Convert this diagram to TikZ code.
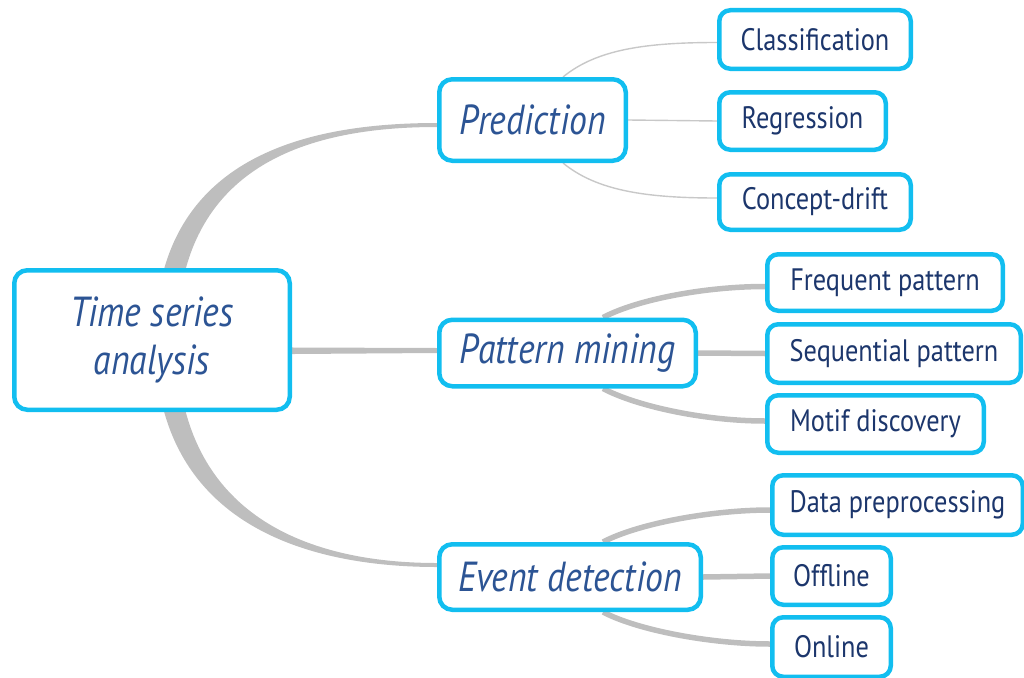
\documentclass[tikz,border=0pt]{standalone}
\usepackage{fontspec}
\setmainfont{PT Sans}[FakeStretch=0.85]
\usetikzlibrary{calc}
\pgfdeclarelayer{background}
\pgfsetlayers{background,main}
\definecolor{boxcyan}{RGB}{18,190,240}
\definecolor{leafnavy}{RGB}{28,54,108}
\definecolor{topicblue}{RGB}{44,84,148}
\definecolor{branchgray}{RGB}{190,190,190}
\definecolor{twiggray}{RGB}{200,200,200}

\begin{document}
\begin{tikzpicture}[x=1pt,y=-1pt,
  box/.style={draw=boxcyan, line width=4.5pt, fill=white, rounded corners=13pt, inner sep=0pt},
  topic/.style={box, font=\fontsize{42}{48}\selectfont\itshape, text=topicblue, align=center},
  leaf/.style={box, font=\fontsize{31}{36}\selectfont, text=leafnavy, rounded corners=11pt},
  branch/.style={fill=branchgray},
  twig/.style={draw=twiggray, line width=1.4pt},
  limb/.style={draw=branchgray, line width=5.5pt}]

\useasboundingbox (0,0) rectangle (1024,677);

% central topic and main branches
\node[topic, minimum width=275.5pt, minimum height=139.5pt] (root) at (152,340) {Time series\\analysis};
\node[topic, minimum width=186.5pt, minimum height=81.5pt] (pred) at (532.5,120) {Prediction};
\node[topic, minimum width=256.5pt, minimum height=66.5pt] (pm) at (567.5,353) {Pattern mining};
\node[topic, minimum width=261.5pt, minimum height=65.5pt] (ev) at (570,577) {Event detection};

% leaves
\node[leaf, minimum width=191.5pt, minimum height=58.5pt] (cls) at (815,39.5) {Classification};
\node[leaf, minimum width=166.5pt, minimum height=57.5pt] (reg) at (802.5,121) {Regression};
\node[leaf, minimum width=191.5pt, minimum height=55.5pt] (cd) at (815,202) {Concept-drift};
\node[leaf, minimum width=235.5pt, minimum height=56.5pt] (freq) at (885,282.5) {Frequent pattern};
\node[leaf, minimum width=253.5pt, minimum height=58.5pt] (seq) at (894,353.5) {Sequential pattern};
\node[leaf, minimum width=216.5pt, minimum height=57.5pt] (motif) at (875.5,424) {Motif discovery};
\node[leaf, minimum width=250.5pt, minimum height=59.5pt] (data) at (897.5,505) {Data preprocessing};
\node[leaf, minimum width=118.5pt, minimum height=57.5pt] (off) at (831.5,576) {Offline};
\node[leaf, minimum width=118.5pt, minimum height=59.5pt] (onl) at (831.5,647) {Online};

\begin{pgfonlayer}{background}
% tapered branches from the central topic
\fill[branch] ($(root.center)+(3,0)$) .. controls ($(root.center)+(3,-180)$) and ($(pred.west)+(-137,3)$) .. ($(pred.west)+(0,3)$)
  -- ($(pred.west)+(0,7)$) .. controls ($(pred.west)+(-137,7)$) and ($(root.center)+(25,-170)$) .. ($(root.center)+(25,0)$) -- cycle;
\fill[branch] ($(root.center)+(3,0)$) .. controls ($(root.center)+(3,180)$) and ($(ev.west)+(-137,-10)$) .. ($(ev.west)+(0,-10)$)
  -- ($(ev.west)+(0,-14)$) .. controls ($(ev.west)+(-137,-14)$) and ($(root.center)+(25,170)$) .. ($(root.center)+(25,0)$) -- cycle;
\fill[branch] ($(pm.west -| root.center)+(0,-6)$) -- ($(pm.west)+(0,-5)$) -- ($(pm.west)+(0,0)$) -- ($(pm.west -| root.center)+(0,2)$) -- cycle;

% Prediction sub-topics
\draw[twig] ($(pred.north west)+(126,0)$) .. controls ($(pred.north west)+(160,-28)$) and ($(cls.west)+(-70,3)$) .. ($(cls.west)+(0,3)$);
\draw[twig] (pred.east) -- (reg.west);
\draw[twig] ($(pred.south west)+(126,0)$) .. controls ($(pred.south west)+(160,28)$) and ($(cd.west)+(-70,-4)$) .. ($(cd.west)+(0,-4)$);

% Pattern mining sub-topics
\draw[limb] ($(pm.north west)+(166,0)$) .. controls ($(pm.north west)+(200,-18)$) and ($(freq.west)+(-60,4)$) .. ($(freq.west)+(0,4)$);
\draw[limb] (pm.east) -- (seq.west);
\draw[limb] ($(pm.south west)+(166,0)$) .. controls ($(pm.south west)+(200,18)$) and ($(motif.west)+(-60,-3)$) .. ($(motif.west)+(0,-3)$);

% Event detection sub-topics
\draw[limb] ($(ev.north west)+(166,0)$) .. controls ($(ev.north west)+(200,-18)$) and ($(data.west)+(-60,5)$) .. ($(data.west)+(0,5)$);
\draw[limb] (ev.east) -- (off.west);
\draw[limb] ($(ev.south west)+(166,0)$) .. controls ($(ev.south west)+(200,18)$) and ($(onl.west)+(-60,-3)$) .. ($(onl.west)+(0,-3)$);
\end{pgfonlayer}
\end{tikzpicture}
\end{document}
